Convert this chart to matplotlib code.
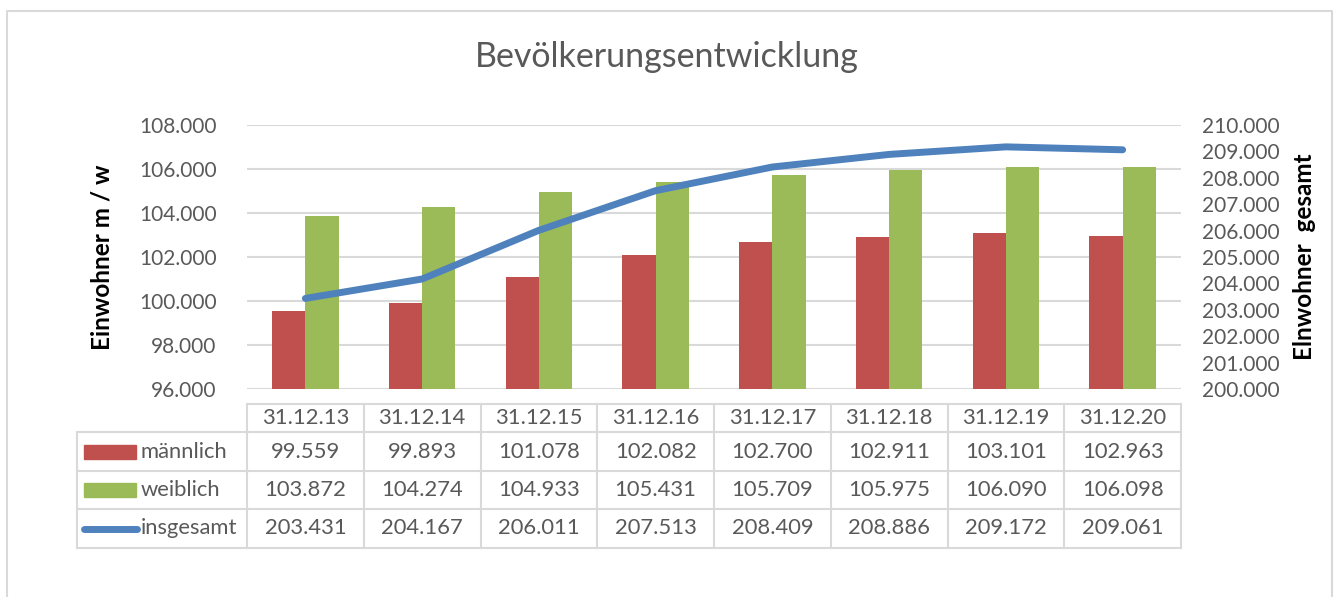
import numpy as np
import matplotlib.pyplot as plt

# Daten
datum = ["31.12.13", "31.12.14", "31.12.15", "31.12.16", "31.12.17", "31.12.18", "31.12.19", "31.12.20"]
maennlich = [99559, 99893, 101078, 102082, 102700, 102911, 103101, 102963]
weiblich = [103872, 104274, 104933, 105431, 105709, 105975, 106090, 106098]
insgesamt = [203431, 204167, 206011, 207513, 208409, 208886, 209172, 209061]
reihen = ["männlich", "weiblich", "insgesamt"]

rot = "#c0504d"
gruen = "#9bbb59"
blau = "#4f81bd"
grau = "#595959"
linie = "#d9d9d9"

plt.rcParams['font.family'] = ['Lato', 'DejaVu Sans']

def fmt(v):
    return f"{v:,}".replace(",", ".")

W, H = 1334, 597
fig = plt.figure(figsize=(W / 100, H / 100), dpi=100)

# Hilfsachse in Pixeln fuer Rahmen und Tabelle
bg = fig.add_axes([0, 0, 1, 1])
bg.set_xlim(0, W)
bg.set_ylim(H, 0)
bg.axis("off")
bg.plot([7, 7, 1332, 1332], [600, 11, 11, 600], color=linie, lw=1.5)

# Diagrammbereich
x0, x1, y0, y1 = 247, 1181, 125, 389
ax = fig.add_axes([x0 / W, 1 - y1 / H, (x1 - x0) / W, (y1 - y0) / H])
n = len(datum)
x = np.arange(n)
bw = 0.285
ax.bar(x - bw / 2, maennlich, bw, color=rot, zorder=2)
ax.bar(x + bw / 2, weiblich, bw, color=gruen, zorder=2)
ax.set_xlim(-0.5, n - 0.5)
ax.set_ylim(96000, 108000)
ax.set_yticks(np.arange(96000, 108001, 2000))
ax.set_yticklabels([fmt(v) for v in range(96000, 108001, 2000)], color=grau, fontsize=15)
ax.grid(axis="y", color=linie, lw=1.5, zorder=0)
ax.set_xticks([])
for s in ax.spines.values():
    s.set_visible(False)
ax.tick_params(axis="y", length=0, pad=22)
ax.set_ylabel("Einwohner m / w", fontsize=17.5, fontweight="bold", labelpad=18)

ax2 = ax.twinx()
ax2.plot(x, insgesamt, color=blau, lw=5, solid_capstyle="round", solid_joinstyle="round", zorder=3)
ax2.set_ylim(200000, 210000)
ax2.set_yticks(np.arange(200000, 210001, 1000))
ax2.set_yticklabels([fmt(v) for v in range(200000, 210001, 1000)], color=grau, fontsize=15)
ax2.tick_params(axis="y", length=0, pad=15)
for s in ax2.spines.values():
    s.set_visible(False)
ax2.set_ylabel("Elnwohner  gesamt", fontsize=17.5, fontweight="bold", labelpad=10)

fig.text(0.5, 1 - 57 / H, "Bevölkerungsentwicklung", ha="center", va="center",
         fontsize=24.5, color=grau)

# Datentabelle
cw = (x1 - x0) / n
rows_y = [404, 432, 471, 509, 548]
lx = 77
# horizontale Linien
bg.plot([x0, x1], [rows_y[0]] * 2, color=linie, lw=1.5)
for yy in rows_y[1:]:
    bg.plot([lx, x1], [yy, yy], color=linie, lw=1.5)
# vertikale Linien
bg.plot([lx, lx], [rows_y[1], rows_y[-1]], color=linie, lw=1.5)
for i in range(n + 1):
    bg.plot([x0 + i * cw] * 2, [rows_y[0], rows_y[-1]], color=linie, lw=1.5)

fs = 15.8
for i, d in enumerate(datum):
    cx = x0 + (i + 0.5) * cw
    bg.text(cx, (rows_y[0] + rows_y[1]) / 2, d, ha="center", va="center", fontsize=fs, color=grau)
    for r, werte in enumerate([maennlich, weiblich, insgesamt]):
        cy = (rows_y[r + 1] + rows_y[r + 2]) / 2
        bg.text(cx, cy, fmt(werte[i]), ha="center", va="center", fontsize=fs, color=grau)

for r, name in enumerate(reihen):
    cy = (rows_y[r + 1] + rows_y[r + 2]) / 2
    if r < 2:
        farbe = [rot, gruen][r]
        bg.add_patch(plt.Rectangle((84, cy - 7), 52, 14, color=farbe))
    else:
        bg.plot([84, 137], [cy, cy], color=blau, lw=5, solid_capstyle="round")
    bg.text(141, cy, name, ha="left", va="center", fontsize=fs, color=grau)

fig.savefig("out.png", dpi=100)
